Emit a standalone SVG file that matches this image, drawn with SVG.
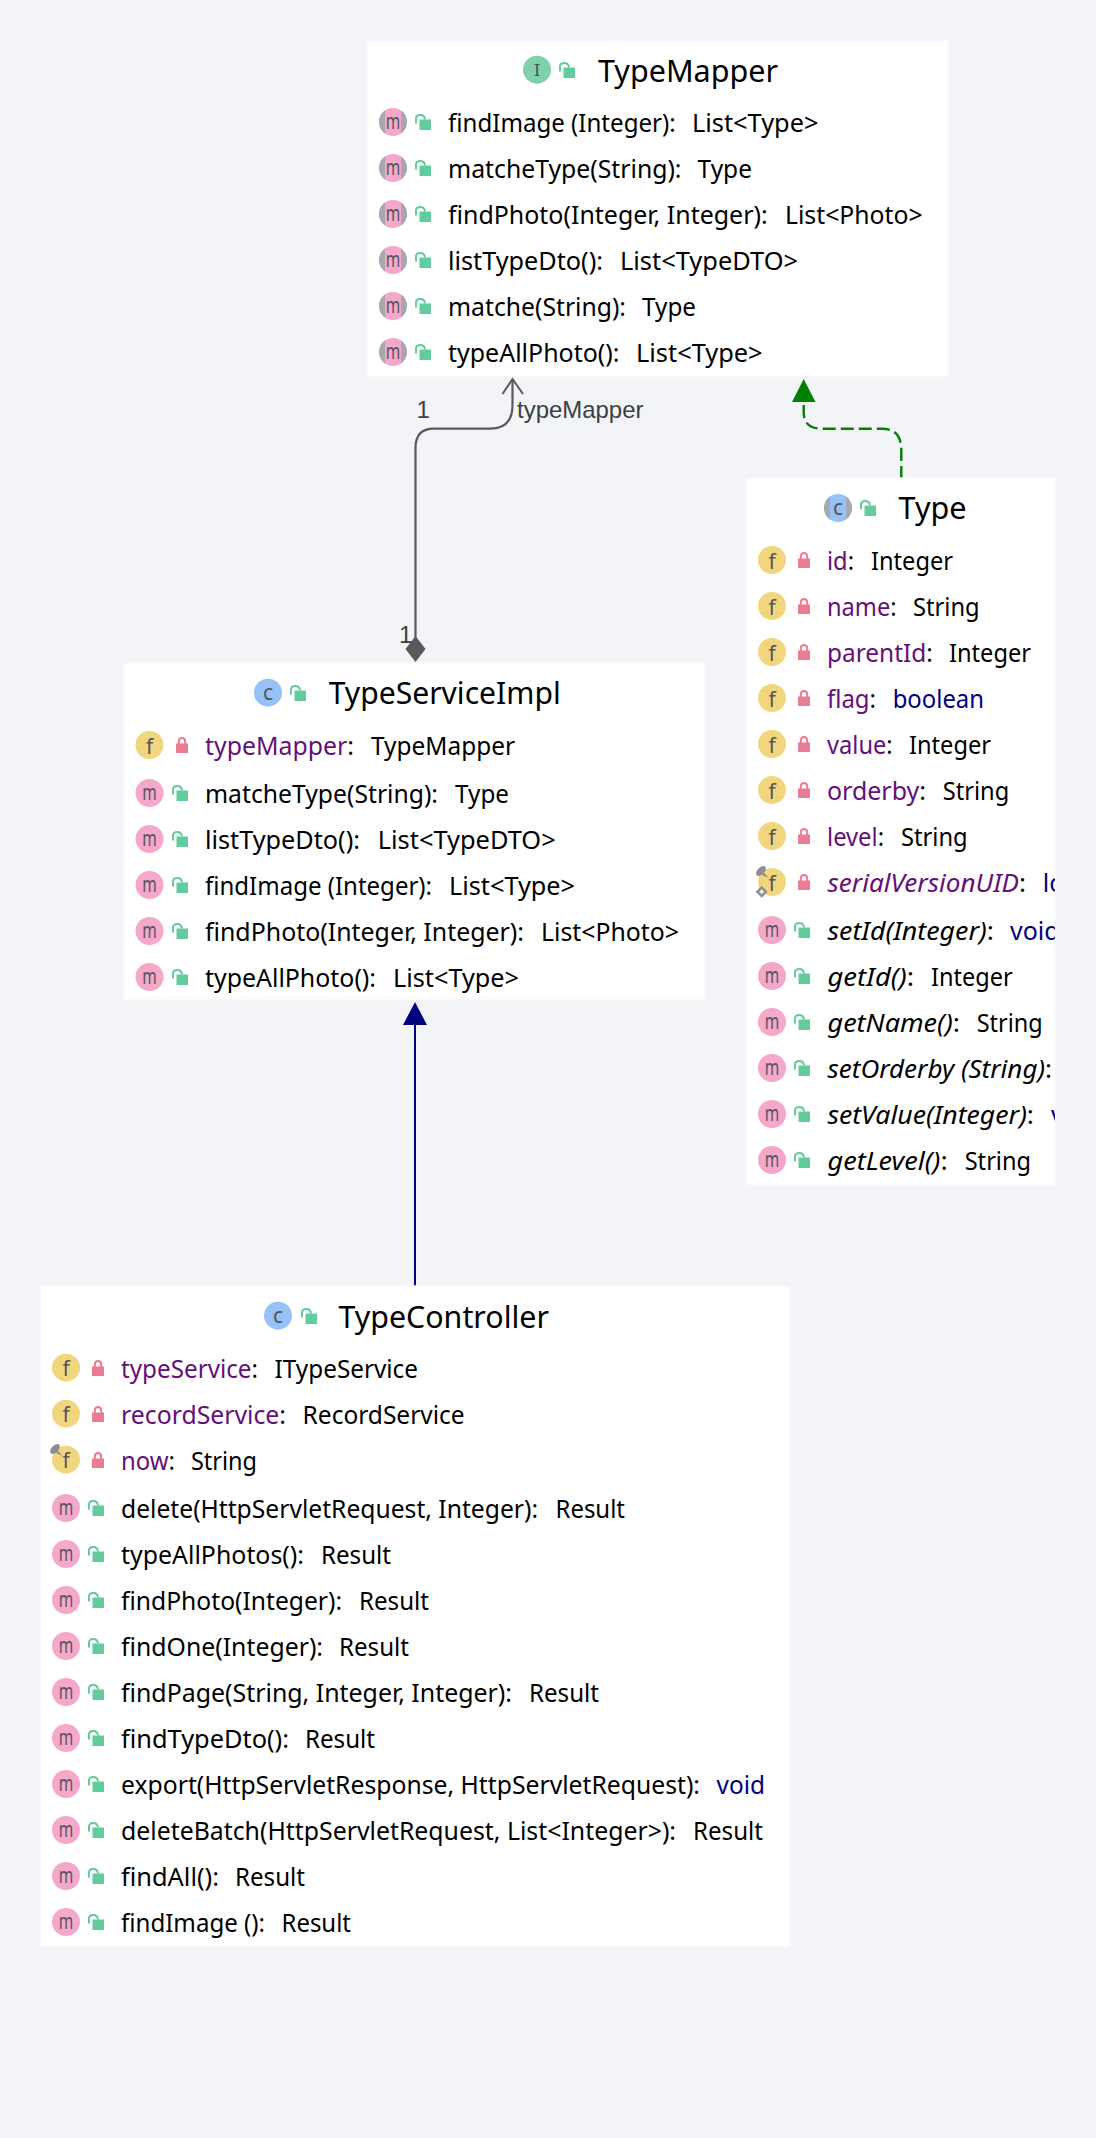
<svg xmlns="http://www.w3.org/2000/svg" width="1096" height="2138" viewBox="0 0 1096 2138">
<style>
text{font-family:"Noto Sans","Open Sans","Liberation Sans",sans-serif;font-size:25px;fill:#000}
.title{font-size:31px}
.fn{fill:#660e7a}
.fn tspan,.sn tspan{fill:#000;font-style:normal}
.sn{fill:#660e7a;font-style:italic}
.it{font-style:italic}
.kw{fill:#000080}
.card{fill:#fff;stroke:#f7f8fa;stroke-width:1.5}
.ic{font-size:21px;fill:#55555b;text-anchor:middle}
.edge{font-family:"Liberation Sans",Arial,sans-serif;font-size:24px;fill:#3c3f41}
.m{fill:#f5a8c9}.f{fill:#f2d67e}.c{fill:#96c2f7}.i{fill:#7fd0ab}.g{fill:#a6a8b1}
</style>
<defs>
<g id="lockOpen"><path d="M1 9.5V4.5Q1 1 5.3 1Q9.5 1 10 5.5" fill="none" stroke="#62cc9c" stroke-width="2"/><rect x="4.5" y="5.5" width="11.5" height="10.5" fill="#62cc9c"/></g>
<g id="lockClosed"><path d="M2.8 8V4.5Q2.8 1 6 1Q9.2 1 9.2 4.5V8" fill="none" stroke="#ea7d94" stroke-width="2"/><rect x="0" y="6.5" width="12" height="9.5" fill="#ea7d94"/></g>
<g id="pin"><ellipse cx="0" cy="0" rx="6" ry="3.4" fill="#8c8e96" transform="rotate(-45)"/><path d="M2.5 1.5L7.5 6.5L1.5 4.5Z" fill="#8c8e96"/></g>
<g id="edge8"><path d="M-8-11.5A14 14 0 0 0-8 11.5ZM8-11.5A14 14 0 0 1 8 11.5Z" fill="#a6a8b1"/></g>
<clipPath id="typeClip"><rect x="746" y="478" width="309" height="707"/></clipPath>
</defs>
<rect width="1096" height="2138" fill="#f2f4f8"/>

<g id="connectors" fill="none">
<path d="M415.5 640V448Q415.5 428.7 434 428.7H490Q512.5 428.7 512.5 405V380" stroke="#595959" stroke-width="2.2"/>
<path d="M502.5 394L512.5 379L523 394" stroke="#595959" stroke-width="2"/>
<path d="M415.5 636L425.5 649L415.5 662L405.5 649Z" fill="#595959"/>
<text class="edge" x="416.5" y="418">1</text>
<text class="edge" x="399" y="643">1</text>
<text class="edge" x="517" y="418" textLength="126.5" lengthAdjust="spacingAndGlyphs">typeMapper</text>
<path d="M803.7 405V412Q803.7 428.7 822 428.7H882Q901.3 428.7 901.3 450V478" stroke="#008000" stroke-width="2.4" stroke-dasharray="13 5"/>
<path d="M803.7 379L815.5 402H792Z" fill="#008000"/>
<path d="M415 1022V1286" stroke="#000080" stroke-width="2"/>
<path d="M415 1002L427 1025H403Z" fill="#000080"/>
</g>

<g id="TypeMapper">
<rect class="card" x="367" y="40" width="581" height="336.5"/>
<circle class="i" cx="537" cy="69.7" r="14"/><text class="ic" x="537" y="76" style="font-family:'DejaVu Serif',serif;font-size:17px;fill:#3f5a50">I</text>
<use href="#lockOpen" x="559" y="62"/>
<text class="title" x="598" y="82" textLength="180" lengthAdjust="spacingAndGlyphs">TypeMapper</text>

<circle class="m" cx="393" cy="122" r="14"/><use href="#edge8" x="393" y="122"/><text class="ic" x="393" y="129" textLength="14.5" lengthAdjust="spacingAndGlyphs">m</text><use href="#lockOpen" x="415" y="114"/>
<text x="448" y="131.5" textLength="227.7" lengthAdjust="spacingAndGlyphs">findImage (Integer):</text><text x="692" y="131.5" textLength="126.5" lengthAdjust="spacingAndGlyphs">List&lt;Type&gt;</text>

<circle class="m" cx="393" cy="168" r="14"/><use href="#edge8" x="393" y="168"/><text class="ic" x="393" y="175" textLength="14.5" lengthAdjust="spacingAndGlyphs">m</text><use href="#lockOpen" x="415" y="160"/>
<text x="448" y="177.5" textLength="233.5" lengthAdjust="spacingAndGlyphs">matcheType(String):</text><text x="697.5" y="177.5" textLength="54.5" lengthAdjust="spacingAndGlyphs">Type</text>

<circle class="m" cx="393" cy="214" r="14"/><use href="#edge8" x="393" y="214"/><text class="ic" x="393" y="221" textLength="14.5" lengthAdjust="spacingAndGlyphs">m</text><use href="#lockOpen" x="415" y="206"/>
<text x="448" y="223.5" textLength="319.6" lengthAdjust="spacingAndGlyphs">findPhoto(Integer, Integer):</text><text x="785" y="223.5" textLength="137.6" lengthAdjust="spacingAndGlyphs">List&lt;Photo&gt;</text>

<circle class="m" cx="393" cy="260" r="14"/><use href="#edge8" x="393" y="260"/><text class="ic" x="393" y="267" textLength="14.5" lengthAdjust="spacingAndGlyphs">m</text><use href="#lockOpen" x="415" y="252"/>
<text x="448" y="269.5" textLength="155" lengthAdjust="spacingAndGlyphs">listTypeDto():</text><text x="620" y="269.5" textLength="178" lengthAdjust="spacingAndGlyphs">List&lt;TypeDTO&gt;</text>

<circle class="m" cx="393" cy="306" r="14"/><use href="#edge8" x="393" y="306"/><text class="ic" x="393" y="313" textLength="14.5" lengthAdjust="spacingAndGlyphs">m</text><use href="#lockOpen" x="415" y="298"/>
<text x="448" y="315.5" textLength="178" lengthAdjust="spacingAndGlyphs">matche(String):</text><text x="642" y="315.5" textLength="54" lengthAdjust="spacingAndGlyphs">Type</text>

<circle class="m" cx="393" cy="352" r="14"/><use href="#edge8" x="393" y="352"/><text class="ic" x="393" y="359" textLength="14.5" lengthAdjust="spacingAndGlyphs">m</text><use href="#lockOpen" x="415" y="344"/>
<text x="448" y="361.5" textLength="171.5" lengthAdjust="spacingAndGlyphs">typeAllPhoto():</text><text x="636" y="361.5" textLength="126.6" lengthAdjust="spacingAndGlyphs">List&lt;Type&gt;</text>
</g>

<g id="Type">
<rect class="card" x="746" y="478" width="309" height="707"/>
<circle class="c" cx="838" cy="508" r="14"/><use href="#edge8" x="838" y="508"/><text class="ic" x="838" y="515">c</text><use href="#lockOpen" x="860" y="500"/>
<text class="title" x="898.5" y="519" textLength="68" lengthAdjust="spacingAndGlyphs">Type</text>
<g clip-path="url(#typeClip)">
<circle class="f" cx="772" cy="560" r="14"/><text class="ic" x="772" y="568.5">f</text><use href="#lockClosed" x="798" y="552"/>
<text class="fn" x="827" y="569.5" textLength="27" lengthAdjust="spacingAndGlyphs">id<tspan>:</tspan></text><text x="871" y="569.5" textLength="82" lengthAdjust="spacingAndGlyphs">Integer</text>

<circle class="f" cx="772" cy="606" r="14"/><text class="ic" x="772" y="614.5">f</text><use href="#lockClosed" x="798" y="598"/>
<text class="fn" x="827" y="615.5" textLength="69.6" lengthAdjust="spacingAndGlyphs">name<tspan>:</tspan></text><text x="913" y="615.5" textLength="66.7" lengthAdjust="spacingAndGlyphs">String</text>

<circle class="f" cx="772" cy="652" r="14"/><text class="ic" x="772" y="660.5">f</text><use href="#lockClosed" x="798" y="644"/>
<text class="fn" x="827" y="661.5" textLength="105.8" lengthAdjust="spacingAndGlyphs">parentId<tspan>:</tspan></text><text x="949" y="661.5" textLength="82" lengthAdjust="spacingAndGlyphs">Integer</text>

<circle class="f" cx="772" cy="698" r="14"/><text class="ic" x="772" y="706.5">f</text><use href="#lockClosed" x="798" y="690"/>
<text class="fn" x="827" y="707.5" textLength="49" lengthAdjust="spacingAndGlyphs">flag<tspan>:</tspan></text><text class="kw" x="892.7" y="707.5" textLength="91.3" lengthAdjust="spacingAndGlyphs">boolean</text>

<circle class="f" cx="772" cy="744" r="14"/><text class="ic" x="772" y="752.5">f</text><use href="#lockClosed" x="798" y="736"/>
<text class="fn" x="827" y="753.5" textLength="65.7" lengthAdjust="spacingAndGlyphs">value<tspan>:</tspan></text><text x="909" y="753.5" textLength="82" lengthAdjust="spacingAndGlyphs">Integer</text>

<circle class="f" cx="772" cy="790" r="14"/><text class="ic" x="772" y="798.5">f</text><use href="#lockClosed" x="798" y="782"/>
<text class="fn" x="827" y="799.5" textLength="99" lengthAdjust="spacingAndGlyphs">orderby<tspan>:</tspan></text><text x="942.7" y="799.5" textLength="66.5" lengthAdjust="spacingAndGlyphs">String</text>

<circle class="f" cx="772" cy="836" r="14"/><text class="ic" x="772" y="844.5">f</text><use href="#lockClosed" x="798" y="828"/>
<text class="fn" x="827" y="845.5" textLength="57" lengthAdjust="spacingAndGlyphs">level<tspan>:</tspan></text><text x="901" y="845.5" textLength="66.7" lengthAdjust="spacingAndGlyphs">String</text>

<circle class="f" cx="772" cy="882" r="14"/><text class="ic" x="772" y="890.5">f</text><use href="#pin" x="761" y="871"/><path d="M761.7 885.7L767.7 891.7L761.7 897.7L755.7 891.7Z" fill="#8c8e96"/><path d="M761.7 889.2L764.2 891.7L761.7 894.2L759.2 891.7Z" fill="#f0ecd8"/><use href="#lockClosed" x="798" y="874"/>
<text class="sn" x="827.5" y="891.5" textLength="198.5" lengthAdjust="spacingAndGlyphs">serialVersionUID<tspan>:</tspan></text><text class="kw" x="1042.7" y="891.5">long</text>

<circle class="m" cx="772" cy="930" r="14"/><text class="ic" x="772" y="937" textLength="14.5" lengthAdjust="spacingAndGlyphs">m</text><use href="#lockOpen" x="794" y="922"/>
<text class="it" x="827.5" y="939.5" textLength="166.5" lengthAdjust="spacingAndGlyphs">setId(Integer)<tspan font-style="normal">:</tspan></text><text class="kw" x="1010" y="939.5">void</text>

<circle class="m" cx="772" cy="976" r="14"/><text class="ic" x="772" y="983" textLength="14.5" lengthAdjust="spacingAndGlyphs">m</text><use href="#lockOpen" x="794" y="968"/>
<text class="it" x="827.5" y="985.5" textLength="86.5" lengthAdjust="spacingAndGlyphs">getId()<tspan font-style="normal">:</tspan></text><text x="931" y="985.5" textLength="81.7" lengthAdjust="spacingAndGlyphs">Integer</text>

<circle class="m" cx="772" cy="1022" r="14"/><text class="ic" x="772" y="1029" textLength="14.5" lengthAdjust="spacingAndGlyphs">m</text><use href="#lockOpen" x="794" y="1014"/>
<text class="it" x="827.5" y="1031.5" textLength="132.5" lengthAdjust="spacingAndGlyphs">getName()<tspan font-style="normal">:</tspan></text><text x="976.7" y="1031.5" textLength="66" lengthAdjust="spacingAndGlyphs">String</text>

<circle class="m" cx="772" cy="1068" r="14"/><text class="ic" x="772" y="1075" textLength="14.5" lengthAdjust="spacingAndGlyphs">m</text><use href="#lockOpen" x="794" y="1060"/>
<text class="it" x="827.5" y="1077.5" textLength="224.5" lengthAdjust="spacingAndGlyphs">setOrderby (String)<tspan font-style="normal">:</tspan></text>

<circle class="m" cx="772" cy="1114" r="14"/><text class="ic" x="772" y="1121" textLength="14.5" lengthAdjust="spacingAndGlyphs">m</text><use href="#lockOpen" x="794" y="1106"/>
<text class="it" x="827.5" y="1123.5" textLength="206.5" lengthAdjust="spacingAndGlyphs">setValue(Integer)<tspan font-style="normal">:</tspan></text><text class="kw" x="1051" y="1123.5">void</text>

<circle class="m" cx="772" cy="1160" r="14"/><text class="ic" x="772" y="1167" textLength="14.5" lengthAdjust="spacingAndGlyphs">m</text><use href="#lockOpen" x="794" y="1152"/>
<text class="it" x="827.5" y="1169.5" textLength="120.2" lengthAdjust="spacingAndGlyphs">getLevel()<tspan font-style="normal">:</tspan></text><text x="964.7" y="1169.5" textLength="66.3" lengthAdjust="spacingAndGlyphs">String</text>
</g>
</g>

<g id="TypeServiceImpl">
<rect class="card" x="124" y="663" width="581" height="337"/>
<circle class="c" cx="268" cy="692.7" r="14"/><text class="ic" x="268" y="699.5">c</text><use href="#lockOpen" x="290" y="685"/>
<text class="title" x="328.7" y="704" textLength="232" lengthAdjust="spacingAndGlyphs">TypeServiceImpl</text>

<circle class="f" cx="149.5" cy="745" r="14"/><text class="ic" x="149.5" y="753.5">f</text><use href="#lockClosed" x="176" y="737"/>
<text class="fn" x="205" y="754.5" textLength="149" lengthAdjust="spacingAndGlyphs">typeMapper<tspan>:</tspan></text><text x="371" y="754.5" textLength="144" lengthAdjust="spacingAndGlyphs">TypeMapper</text>

<circle class="m" cx="149.5" cy="793" r="14"/><text class="ic" x="149.5" y="800" textLength="14.5" lengthAdjust="spacingAndGlyphs">m</text><use href="#lockOpen" x="172" y="785"/>
<text x="205" y="802.5" textLength="233" lengthAdjust="spacingAndGlyphs">matcheType(String):</text><text x="455" y="802.5" textLength="54" lengthAdjust="spacingAndGlyphs">Type</text>

<circle class="m" cx="149.5" cy="839" r="14"/><text class="ic" x="149.5" y="846" textLength="14.5" lengthAdjust="spacingAndGlyphs">m</text><use href="#lockOpen" x="172" y="831"/>
<text x="205" y="848.5" textLength="155" lengthAdjust="spacingAndGlyphs">listTypeDto():</text><text x="377.7" y="848.5" textLength="178" lengthAdjust="spacingAndGlyphs">List&lt;TypeDTO&gt;</text>

<circle class="m" cx="149.5" cy="885" r="14"/><text class="ic" x="149.5" y="892" textLength="14.5" lengthAdjust="spacingAndGlyphs">m</text><use href="#lockOpen" x="172" y="877"/>
<text x="205" y="894.5" textLength="227" lengthAdjust="spacingAndGlyphs">findImage (Integer):</text><text x="449" y="894.5" textLength="126" lengthAdjust="spacingAndGlyphs">List&lt;Type&gt;</text>

<circle class="m" cx="149.5" cy="931" r="14"/><text class="ic" x="149.5" y="938" textLength="14.5" lengthAdjust="spacingAndGlyphs">m</text><use href="#lockOpen" x="172" y="923"/>
<text x="205" y="940.5" textLength="319" lengthAdjust="spacingAndGlyphs">findPhoto(Integer, Integer):</text><text x="541" y="940.5" textLength="138" lengthAdjust="spacingAndGlyphs">List&lt;Photo&gt;</text>

<circle class="m" cx="149.5" cy="977" r="14"/><text class="ic" x="149.5" y="984" textLength="14.5" lengthAdjust="spacingAndGlyphs">m</text><use href="#lockOpen" x="172" y="969"/>
<text x="205" y="986.5" textLength="171" lengthAdjust="spacingAndGlyphs">typeAllPhoto():</text><text x="393" y="986.5" textLength="126" lengthAdjust="spacingAndGlyphs">List&lt;Type&gt;</text>
</g>

<g id="TypeController">
<rect class="card" x="40" y="1286" width="750" height="660.5"/>
<circle class="c" cx="278" cy="1315.7" r="14"/><text class="ic" x="278" y="1322.5">c</text><use href="#lockOpen" x="301" y="1308"/>
<text class="title" x="338.5" y="1327.7" textLength="210.5" lengthAdjust="spacingAndGlyphs">TypeController</text>

<circle class="f" cx="66" cy="1367.7" r="14"/><text class="ic" x="66" y="1376">f</text><use href="#lockClosed" x="92" y="1360"/>
<text class="fn" x="121" y="1377.5" textLength="137" lengthAdjust="spacingAndGlyphs">typeService<tspan>:</tspan></text><text x="274.6" y="1377.5" textLength="143.4" lengthAdjust="spacingAndGlyphs">ITypeService</text>

<circle class="f" cx="66" cy="1413.7" r="14"/><text class="ic" x="66" y="1422">f</text><use href="#lockClosed" x="92" y="1406"/>
<text class="fn" x="121" y="1423.5" textLength="165" lengthAdjust="spacingAndGlyphs">recordService<tspan>:</tspan></text><text x="302.6" y="1423.5" textLength="162" lengthAdjust="spacingAndGlyphs">RecordService</text>

<circle class="f" cx="66" cy="1459.7" r="14"/><text class="ic" x="66" y="1468">f</text><use href="#pin" x="55" y="1449"/><use href="#lockClosed" x="92" y="1452"/>
<text class="fn" x="121" y="1469.5" textLength="54" lengthAdjust="spacingAndGlyphs">now<tspan>:</tspan></text><text x="191" y="1469.5" textLength="66" lengthAdjust="spacingAndGlyphs">String</text>

<circle class="m" cx="66" cy="1508" r="14"/><text class="ic" x="66" y="1515" textLength="14.5" lengthAdjust="spacingAndGlyphs">m</text><use href="#lockOpen" x="88" y="1500"/>
<text x="121" y="1517.5" textLength="417" lengthAdjust="spacingAndGlyphs">delete(HttpServletRequest, Integer):</text><text x="555.5" y="1517.5" textLength="69.5" lengthAdjust="spacingAndGlyphs">Result</text>

<circle class="m" cx="66" cy="1554" r="14"/><text class="ic" x="66" y="1561" textLength="14.5" lengthAdjust="spacingAndGlyphs">m</text><use href="#lockOpen" x="88" y="1546"/>
<text x="121" y="1563.5" textLength="183" lengthAdjust="spacingAndGlyphs">typeAllPhotos():</text><text x="321" y="1563.5" textLength="70" lengthAdjust="spacingAndGlyphs">Result</text>

<circle class="m" cx="66" cy="1600" r="14"/><text class="ic" x="66" y="1607" textLength="14.5" lengthAdjust="spacingAndGlyphs">m</text><use href="#lockOpen" x="88" y="1592"/>
<text x="121" y="1609.5" textLength="221" lengthAdjust="spacingAndGlyphs">findPhoto(Integer):</text><text x="359" y="1609.5" textLength="70" lengthAdjust="spacingAndGlyphs">Result</text>

<circle class="m" cx="66" cy="1646" r="14"/><text class="ic" x="66" y="1653" textLength="14.5" lengthAdjust="spacingAndGlyphs">m</text><use href="#lockOpen" x="88" y="1638"/>
<text x="121" y="1655.5" textLength="202" lengthAdjust="spacingAndGlyphs">findOne(Integer):</text><text x="339" y="1655.5" textLength="70" lengthAdjust="spacingAndGlyphs">Result</text>

<circle class="m" cx="66" cy="1692" r="14"/><text class="ic" x="66" y="1699" textLength="14.5" lengthAdjust="spacingAndGlyphs">m</text><use href="#lockOpen" x="88" y="1684"/>
<text x="121" y="1701.5" textLength="391" lengthAdjust="spacingAndGlyphs">findPage(String, Integer, Integer):</text><text x="529" y="1701.5" textLength="70" lengthAdjust="spacingAndGlyphs">Result</text>

<circle class="m" cx="66" cy="1738" r="14"/><text class="ic" x="66" y="1745" textLength="14.5" lengthAdjust="spacingAndGlyphs">m</text><use href="#lockOpen" x="88" y="1730"/>
<text x="121" y="1747.5" textLength="168" lengthAdjust="spacingAndGlyphs">findTypeDto():</text><text x="305" y="1747.5" textLength="70" lengthAdjust="spacingAndGlyphs">Result</text>

<circle class="m" cx="66" cy="1784" r="14"/><text class="ic" x="66" y="1791" textLength="14.5" lengthAdjust="spacingAndGlyphs">m</text><use href="#lockOpen" x="88" y="1776"/>
<text x="121" y="1793.5" textLength="579" lengthAdjust="spacingAndGlyphs">export(HttpServletResponse, HttpServletRequest):</text><text class="kw" x="716.6" y="1793.5" textLength="48.4" lengthAdjust="spacingAndGlyphs">void</text>

<circle class="m" cx="66" cy="1830" r="14"/><text class="ic" x="66" y="1837" textLength="14.5" lengthAdjust="spacingAndGlyphs">m</text><use href="#lockOpen" x="88" y="1822"/>
<text x="121" y="1839.5" textLength="555" lengthAdjust="spacingAndGlyphs">deleteBatch(HttpServletRequest, List&lt;Integer&gt;):</text><text x="693" y="1839.5" textLength="70" lengthAdjust="spacingAndGlyphs">Result</text>

<circle class="m" cx="66" cy="1876" r="14"/><text class="ic" x="66" y="1883" textLength="14.5" lengthAdjust="spacingAndGlyphs">m</text><use href="#lockOpen" x="88" y="1868"/>
<text x="121" y="1885.5" textLength="98" lengthAdjust="spacingAndGlyphs">findAll():</text><text x="235" y="1885.5" textLength="70" lengthAdjust="spacingAndGlyphs">Result</text>

<circle class="m" cx="66" cy="1922" r="14"/><text class="ic" x="66" y="1929" textLength="14.5" lengthAdjust="spacingAndGlyphs">m</text><use href="#lockOpen" x="88" y="1914"/>
<text x="121" y="1931.5" textLength="144" lengthAdjust="spacingAndGlyphs">findImage ():</text><text x="281.5" y="1931.5" textLength="69.5" lengthAdjust="spacingAndGlyphs">Result</text>
</g>
</svg>
